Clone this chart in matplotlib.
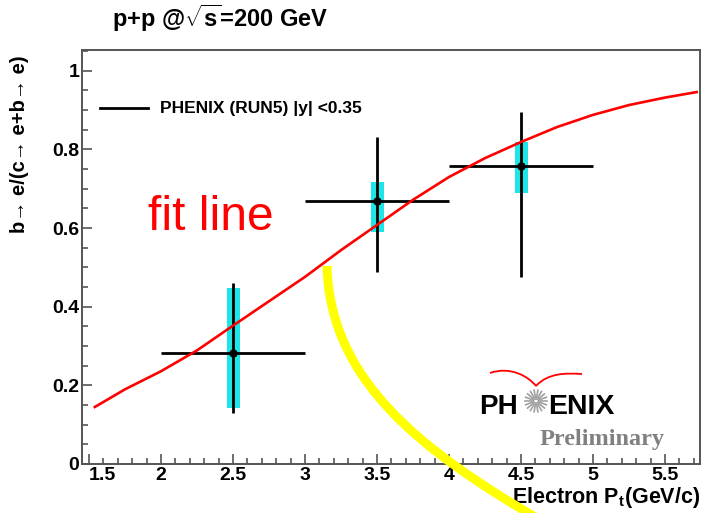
import numpy as np
import matplotlib.pyplot as plt
from matplotlib.path import Path
from matplotlib.patches import PathPatch
from matplotlib.ticker import MultipleLocator

plt.rcParams['font.family'] = ['Liberation Sans', 'DejaVu Sans']
plt.rcParams['font.weight'] = 'bold'
plt.rcParams['mathtext.fontset'] = 'custom'
plt.rcParams['mathtext.rm'] = 'Liberation Sans:bold'
plt.rcParams['mathtext.it'] = 'Liberation Sans:bold'
plt.rcParams['mathtext.bf'] = 'Liberation Sans:bold'

# measured b->e fraction, three pt bins
pt = [2.5, 3.5, 4.5]
pt_halfwidth = [0.5, 0.5, 0.5]
frac = [0.282, 0.669, 0.758]
stat_lo = [0.130, 0.489, 0.476]
stat_hi = [0.461, 0.832, 0.896]
sys_lo = [0.143, 0.590, 0.690]
sys_hi = [0.448, 0.718, 0.820]

# fit curve through the points
fit_pt = [1.54, 1.75, 2.0, 2.25, 2.5, 2.75, 3.0, 3.25, 3.5, 3.75, 4.0,
          4.25, 4.5, 4.75, 5.0, 5.25, 5.5, 5.72]
fit_frac = [0.145, 0.190, 0.236, 0.289, 0.352, 0.414, 0.476, 0.544, 0.608,
            0.672, 0.730, 0.778, 0.819, 0.857, 0.888, 0.913, 0.932, 0.946]

x_ticks = [1.5, 2, 2.5, 3, 3.5, 4, 4.5, 5, 5.5]
x_ticklabels = ['1.5', '2', '2.5', '3', '3.5', '4', '4.5', '5', '5.5']
y_ticks = [0, 0.2, 0.4, 0.6, 0.8, 1]
y_ticklabels = ['0', '0.2', '0.4', '0.6', '0.8', '1']

W, H = 702, 513
fig = plt.figure(figsize=(W / 100, H / 100), dpi=100)
ax = fig.add_axes([82 / W, 1 - 464 / H, 618 / W, 414 / H])

def px(x, y):
    # pixel position (from top-left) -> figure fraction
    return x / W, 1 - y / H

frac = np.array(frac)
ax.bar(pt, np.array(sys_hi) - np.array(sys_lo), bottom=sys_lo, width=0.09,
       color='#1ee6e6', zorder=2)
ax.errorbar(pt, frac, xerr=pt_halfwidth,
            yerr=[frac - np.array(stat_lo), np.array(stat_hi) - frac],
            fmt='o', color='black', ms=5, lw=2, capsize=0, zorder=3)
ax.plot(fit_pt, fit_frac, color='red', lw=1.9, zorder=4)

ax.set_xlim(1.451, 5.743)
ax.set_ylim(0, 1.053)
ax.xaxis.set_minor_locator(MultipleLocator(0.1))
ax.yaxis.set_minor_locator(MultipleLocator(0.05))
ax.set_xticks(x_ticks)
ax.set_xticklabels(x_ticklabels)
ax.set_yticks(y_ticks)
ax.set_yticklabels(y_ticklabels)
ax.tick_params(which='both', direction='in', color='#555555', width=1.2,
               labelsize=14, top=False, right=False)
ax.tick_params(which='major', length=7, pad=2)
ax.tick_params(which='minor', length=4)
# first x label sits right of its tick so it clears the "0"
ax.get_xticklabels()[0].set_horizontalalignment('left')
for s in ax.spines.values():
    s.set_color('#555555')
    s.set_linewidth(1.4)

# legend entry
ax.plot([100 / W, 148 / W], [1 - 108 / H] * 2, color='black', lw=2,
        transform=fig.transFigure, clip_on=False)
fig.text(160 / W, 1 - 108 / H, 'PHENIX (RUN5) |y| <0.35', fontsize=12.5,
         fontweight='bold', va='center', ha='left')

fig.text(112 / W, 1 - 18 / H, r'p+p @$\sqrt{s}$=200 GeV', fontsize=17,
         fontweight='bold', va='center', ha='left')
fig.text(20 / W, 1 - 55 / H, 'b→ e/(c→ e+b→ e)', rotation=90, fontsize=14.5,
         fontweight='bold', ha='center', va='top')
fig.text(700 / W, 1 - 497 / H, r'Electron P$_{t}$(GeV/c)', fontsize=15.5,
         fontweight='bold', ha='right', va='center')

fig.text(148 / W, 1 - 230 / H, 'fit line', color='red', fontsize=34.5,
         fontweight='normal', ha='left', va='baseline')

# yellow arrow-ish stroke
verts = [px(327, 266), px(330, 380), px(420, 450), px(540, 520)]
yellow = PathPatch(Path(verts, [Path.MOVETO, Path.CURVE4, Path.CURVE4, Path.CURVE4]),
                   transform=fig.transFigure, facecolor='none', edgecolor='#ffff00',
                   lw=6.5, capstyle='butt', zorder=10)
fig.patches.append(yellow)

# PHENIX logo
fig.text(479 / W, 1 - 414 / H, 'PH', fontsize=20, fontweight='bold',
         ha='left', va='baseline')
fig.text(548 / W, 1 - 414 / H, 'ENIX', fontsize=20.5, fontweight='bold',
         ha='left', va='baseline')
cx, cy = 536, 401
for a in np.linspace(0, 2 * np.pi, 18, endpoint=False):
    x0, y0 = px(cx + 3.5 * np.cos(a), cy + 3.5 * np.sin(a))
    x1, y1 = px(cx + 11 * np.cos(a), cy + 11 * np.sin(a))
    fig.add_artist(plt.Line2D([x0, x1], [y0, y1], color='#a0a0a0', lw=1.2))
fig.add_artist(plt.Circle(px(cx, cy), 2.5 / W, transform=fig.transFigure,
                          facecolor='none', edgecolor='#a0a0a0', lw=1))
# red wing over the logo
wing_l = [px(490, 373), px(510, 366), px(528, 376), px(536, 386)]
wing_r = [px(536, 386), px(548, 373), px(565, 373), px(582, 374)]
for wv in (wing_l, wing_r):
    fig.patches.append(PathPatch(Path(wv, [Path.MOVETO, Path.CURVE4, Path.CURVE4, Path.CURVE4]),
                                 transform=fig.transFigure, facecolor='none',
                                 edgecolor='red', lw=1.3))
fig.text(540 / W, 1 - 440 / H, 'Preliminary', fontsize=17.5, fontweight='bold',
         family='Liberation Serif', color='#808080', ha='left', va='center')

fig.savefig('out.png', dpi=100)
